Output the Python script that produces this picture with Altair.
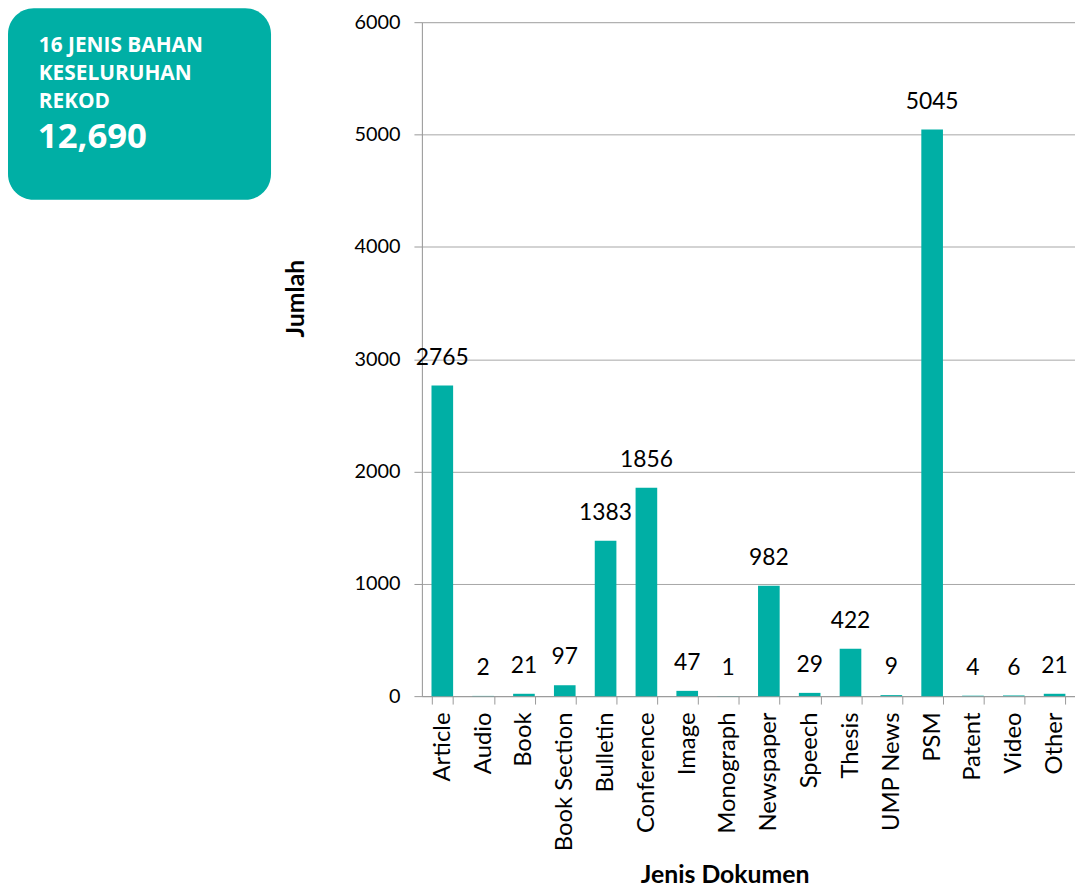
import altair as alt
import pandas as pd

categories = ["Article", "Audio", "Book", "Book Section", "Bulletin", "Conference", "Image",
              "Monograph", "Newspaper", "Speech", "Thesis", "UMP News", "PSM", "Patent", "Video", "Other"]
values = [2765, 2, 21, 97, 1383, 1856, 47, 1, 982, 29, 422, 9, 5045, 4, 6, 21]
y_ticks = [0, 1000, 2000, 3000, 4000, 5000, 6000]
box_lines = ["16 JENIS BAHAN", "KESELURUHAN", "REKOD"]
box_total = "12,690"

df = pd.DataFrame({"cat": categories, "val": values})

TEAL = "#00AFA5"
FONT = "Lato"
W, H = 658, 679

x = alt.X("cat:N", sort=categories, title="Jenis Dokumen",
          scale=alt.Scale(paddingInner=0.47, paddingOuter=0.235),
          axis=alt.Axis(labelAngle=-90, labelFontSize=24, labelFont=FONT, labelColor="#000",
                        labelPadding=8, tickBand="extent", tickSize=8, tickColor="#999",
                        domainColor="#999", titleFontSize=25, titleFont=FONT,
                        titleFontWeight="bold", titleColor="#000", titleX=305, titleY=180,
                        titleAnchor="middle", titleBaseline="middle", labelLimit=0))
y = alt.Y("val:Q", title="Jumlah",
          scale=alt.Scale(domain=[0, 6000], nice=False),
          axis=alt.Axis(values=y_ticks, format="d", labelFontSize=20, labelFont=FONT,
                        labelColor="#000", tickSize=8, tickColor="#999", domainColor="#999",
                        labelPadding=14, gridColor="#a6a6a6", grid=True, titleFontSize=25,
                        titleFont=FONT, titleFontWeight="bold", titleColor="#000",
                        titleX=-127, titleY=278, titleAngle=-90, titleBaseline="middle",
                        titleAnchor="middle"))

base = alt.Chart(df)
bars = base.mark_bar(color=TEAL).encode(x=x, y=y)
labels = base.mark_text(fontSize=23, font=FONT, color="#000", baseline="alphabetic", dy=-21).encode(
    x=alt.X("cat:N", sort=categories), y="val:Q", text="val:Q")

box = alt.Chart(pd.DataFrame({"k": [0]})).mark_rect(color=TEAL, cornerRadius=26).encode(
    x=alt.value(-417), x2=alt.value(-152), y=alt.value(-14), y2=alt.value(179))

box_df = pd.DataFrame({"t": box_lines, "yy": [24, 52, 80]})
box_text = alt.Chart(box_df).mark_text(color="white", fontSize=21, font="Open Sans",
                                       fontWeight="bold", align="left", baseline="middle").encode(
    x=alt.value(-386), y=alt.Y("yy:Q", scale=None), text="t:N")
total_text = alt.Chart(pd.DataFrame({"t": [box_total]})).mark_text(
    color="white", fontSize=35, font="Open Sans", fontWeight="bold", align="left",
    baseline="middle").encode(x=alt.value(-387), y=alt.value(116), text="t:N")

chart = alt.layer(bars, labels, box, box_text, total_text).properties(
    width=W, height=H,
    autosize=alt.AutoSizeParams(type="none"),
    padding={"left": 417, "top": 11, "right": 0, "bottom": 189},
).configure_view(stroke=None).configure(background="white")

chart.save("out.html", embed_options={"renderer": "svg", "actions": False})
